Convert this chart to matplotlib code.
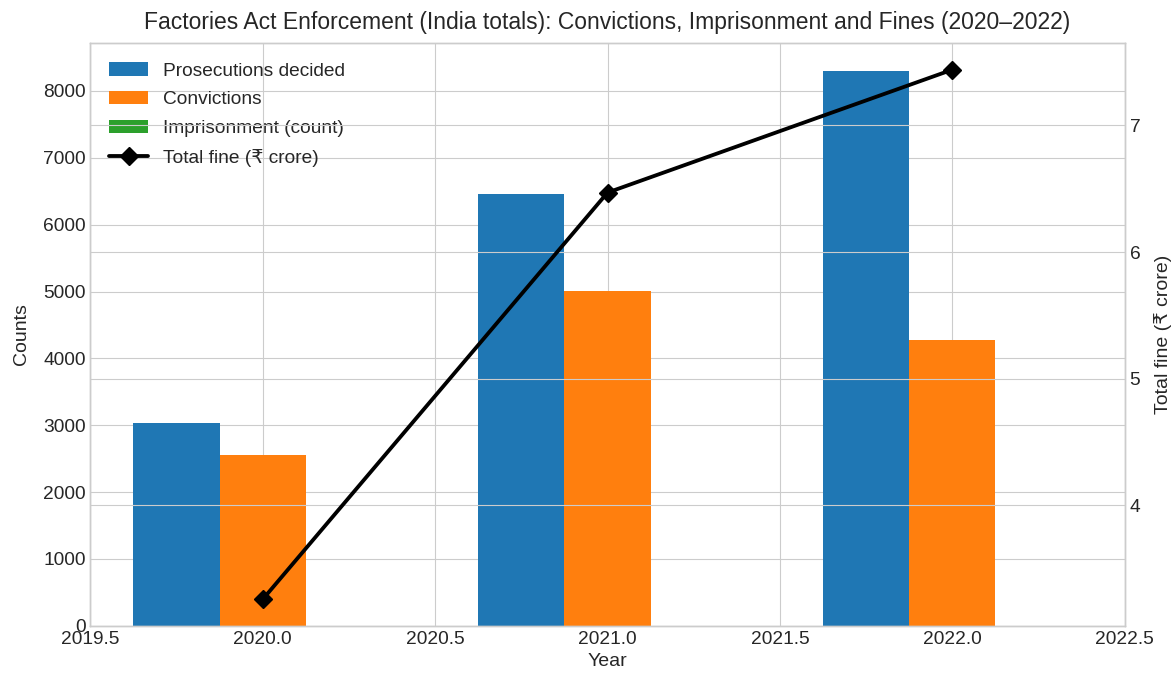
import numpy as np
import matplotlib
matplotlib.use("Agg")
import matplotlib.pyplot as plt

plt.style.use("seaborn-v0_8-whitegrid")
plt.rcParams["font.family"] = ["Liberation Sans", "DejaVu Sans"]

years = np.array([2020, 2021, 2022])
prosecutions = [3040, 6460, 8300]
convictions = [2560, 5010, 4280]
imprisonment = [0, 0, 0]
total_fine = [3.26, 6.47, 7.44]  # ₹ crore

w = 0.25
fig, ax = plt.subplots(figsize=(11.74, 6.75), dpi=100)
ax.bar(years - w, prosecutions, width=w, color="#1f77b4", label="Prosecutions decided")
ax.bar(years, convictions, width=w, color="#ff7f0e", label="Convictions")
ax.bar(years + w, imprisonment, width=w, color="#2ca02c", label="Imprisonment (count)")
ax.set_xlim(2019.5, 2022.5)
ax.set_xlabel("Year", fontsize=14)
ax.set_ylabel("Counts", fontsize=14, labelpad=9)
ax.tick_params(labelsize=13.75)

ax2 = ax.twinx()
ax2.plot(years, total_fine, color="black", marker="D", markersize=9, linewidth=2.75,
         label="Total fine (\u20b9 crore)")
ax2.set_ylabel("Total fine (\u20b9 crore)", fontsize=14, labelpad=10)
ax2.tick_params(labelsize=13.75)
ax2.set_yticks([4, 5, 6, 7])

h1, l1 = ax.get_legend_handles_labels()
h2, l2 = ax2.get_legend_handles_labels()
ax.legend(h1 + h2, l1 + l2, loc="upper left", fontsize=13.75,
          labelspacing=0.6, handlelength=2.0, borderaxespad=0.6)

ax.set_title("Factories Act Enforcement (India totals): Convictions, Imprisonment and Fines (2020\u20132022)",
             fontsize=16.5, pad=10)
fig.subplots_adjust(left=0.077, right=0.958, top=0.936, bottom=0.073)
fig.savefig("out.png")
